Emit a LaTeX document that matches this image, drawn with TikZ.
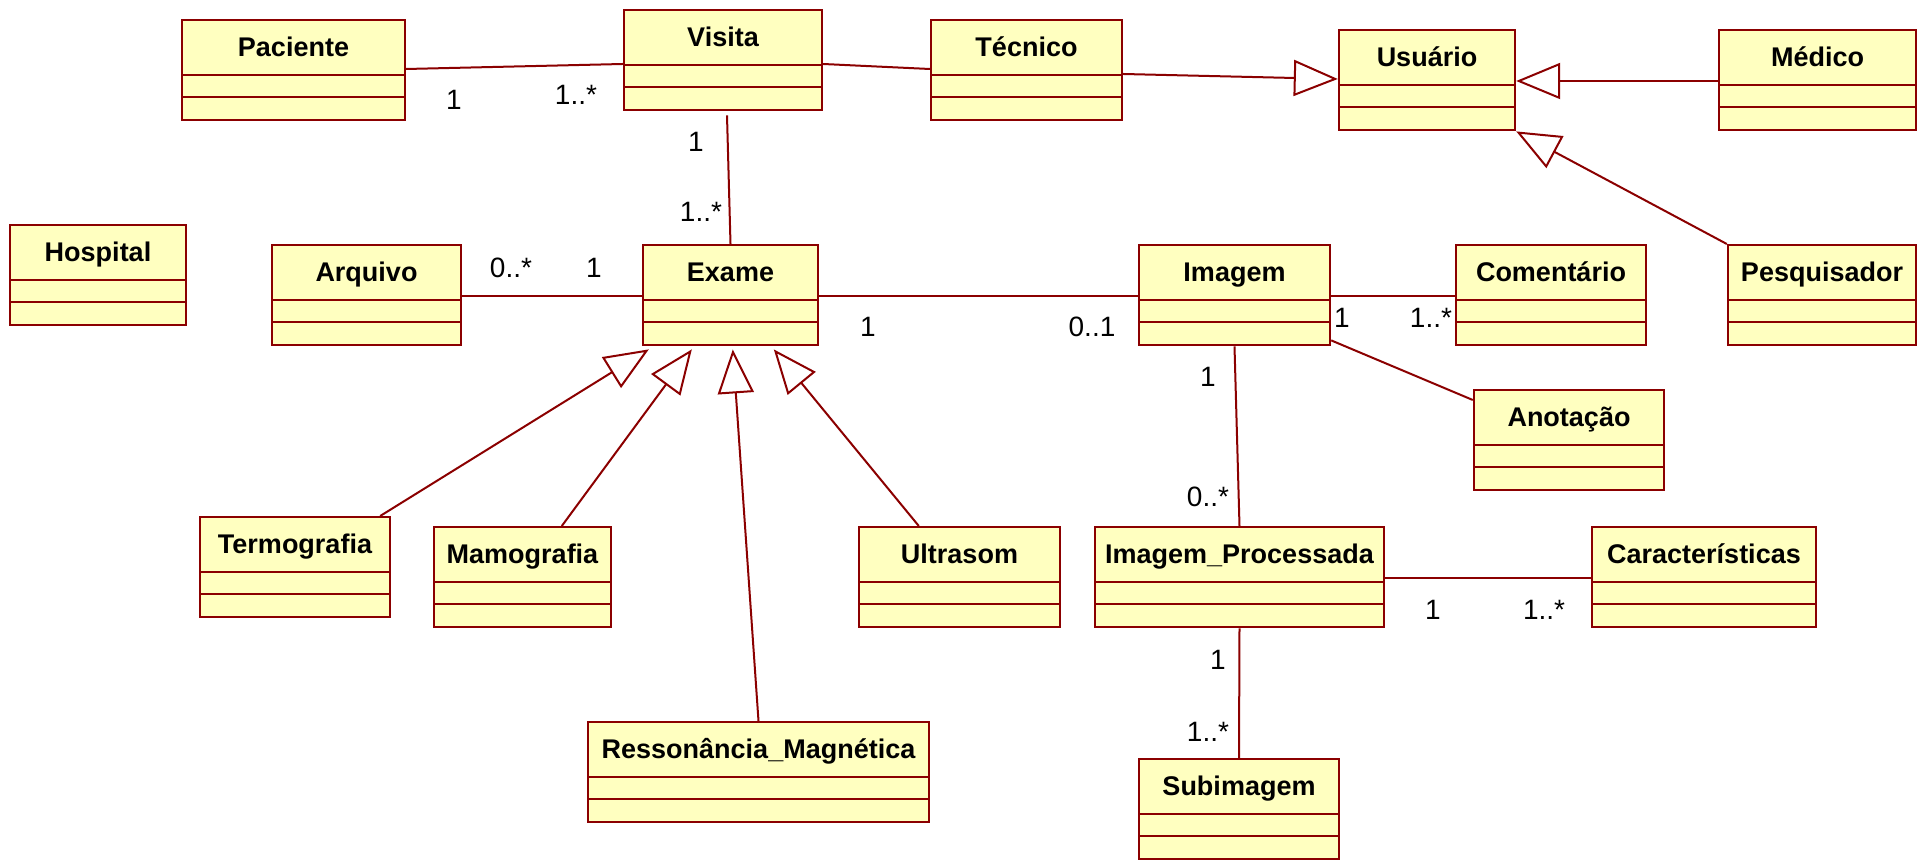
\documentclass[tikz,border=0pt]{standalone}
\usepackage{fontspec}
\setmainfont{Liberation Sans}
\usetikzlibrary{arrows.meta,calc}
\definecolor{umlfill}{HTML}{FFFFC0}
\definecolor{umlline}{HTML}{8B0000}

\begin{document}
\begin{tikzpicture}[
  x=0.5pt, y=-0.5pt,
  cls/.style={draw=umlline, fill=umlfill, line width=1.2pt, anchor=north,
    inner xsep=2pt, inner ysep=0pt, minimum height=50pt,
    text height=18pt, text depth=32pt,
    font=\fontsize{13.5}{15}\selectfont\bfseries,
    path picture={\draw[umlline, line width=1.2pt]
      ([yshift=-27.5pt]path picture bounding box.north west) -- ([yshift=-27.5pt]path picture bounding box.north east)
      ([yshift=-38.5pt]path picture bounding box.north west) -- ([yshift=-38.5pt]path picture bounding box.north east);}},
  assoc/.style={draw=umlline, line width=1pt},
  gen/.style={assoc, -{Triangle[open, length=22pt, width=18pt]}},
  mult/.style={font=\fontsize{14}{16}\selectfont, inner sep=0pt}
]
  \useasboundingbox (0,0) rectangle (1918,860);

  % Linha 1: pacientes e usuarios
  \node[cls, minimum width=111.5pt] (paciente) at (293.5,19)  {Paciente};
  \node[cls, minimum width=99pt]    (visita)   at (723,9)     {Visita};
  \node[cls, minimum width=95.5pt]  (tecnico)  at (1026.5,19) {Técnico};
  \node[cls, minimum width=88pt]    (usuario)  at (1427,29)   {Usuário};
  \node[cls, minimum width=98.5pt]  (medico)   at (1817.5,29) {Médico};
  % Linha 2: exame e imagem
  \node[cls, minimum width=88pt]    (hospital)    at (98,224)    {Hospital};
  \node[cls, minimum width=94.5pt]  (arquivo)     at (366.5,244) {Arquivo};
  \node[cls, minimum width=87.5pt]  (exame)       at (730.5,244) {Exame};
  \node[cls, minimum width=95.5pt]  (imagem)      at (1234.5,244) {Imagem};
  \node[cls, minimum width=95pt]    (comentario)  at (1551,244)  {Comentário};
  \node[cls, minimum width=94pt]    (pesquisador) at (1822,244)  {Pesquisador};
  \node[cls, minimum width=95pt]    (anotacao)    at (1569,389)  {Anotação};
  % Linha 3: tipos de exame e processamento
  \node[cls, minimum width=95pt]    (termografia)     at (295,516)    {Termografia};
  \node[cls, minimum width=88.5pt]  (mamografia)      at (522.5,526)  {Mamografia};
  \node[cls, minimum width=100.5pt] (ultrasom)        at (959.5,526)  {Ultrasom};
  \node[cls, minimum width=144.5pt] (imgproc)         at (1239.5,526) {Imagem\_Processada};
  \node[cls, minimum width=112pt]   (caracteristicas) at (1704,526)   {Características};
  \node[cls, minimum width=170.5pt] (ressonancia)     at (758.5,721)  {Ressonância\_Magnética};
  \node[cls, minimum width=100pt]   (subimagem)       at (1239,758)   {Subimagem};

  % Associacoes
  \draw[assoc] ($(paciente.north east)+(0,50)$) -- ($(visita.north west)+(0,55)$);
  \draw[assoc] ($(visita.north east)+(0,55)$) -- ($(tecnico.north west)+(0,50)$);
  \draw[assoc] ($(visita.south)+(4,4)$) -- (exame.north);
  \draw[assoc] ($(arquivo.north east)+(0,52)$) -- ($(exame.north west)+(0,52)$);
  \draw[assoc] ($(exame.north east)+(0,52)$) -- ($(imagem.north west)+(0,52)$);
  \draw[assoc] ($(imagem.north east)+(0,52)$) -- ($(comentario.north west)+(0,52)$);
  \draw[assoc] ($(imagem.south east)+(0,-6)$) -- ($(anotacao.north west)+(0,11)$);
  \draw[assoc] (imagem.south) -- (imgproc.north);
  \draw[assoc] ($(imgproc.north east)+(0,52)$) -- ($(caracteristicas.north west)+(0,52)$);
  \draw[assoc] (imgproc.south) -- (subimagem.north);

  % Generalizacoes
  \draw[gen] ($(tecnico.north east)+(0,55)$) -- ($(usuario.north west)+(0,50)$);
  \draw[gen] ($(medico.north west)+(0,52)$) -- ($(usuario.north east)+(0,52)$);
  \draw[gen] (pesquisador.north west) -- (usuario.south east);
  \draw[gen] ($(termografia.north east)+(-11,0)$) -- ($(exame.south west)+(7,3)$);
  \draw[gen] ($(mamografia.north west)+(129,0)$) -- ($(exame.south west)+(50,3)$);
  \draw[gen] (ressonancia.north) -- ($(exame.south west)+(91,3)$);
  \draw[gen] ($(ultrasom.north west)+(61,0)$) -- ($(exame.south west)+(132,3)$);

  % Multiplicidades
  \node[mult] (m1)  at (454,100)  {1};
  \node[mult] (m2)  at (576,95)   {1..*};
  \node[mult] (m3)  at (696,142)  {1};
  \node[mult] (m4)  at (701,212)  {1..*};
  \node[mult] (m5)  at (511,268)  {0..*};
  \node[mult] (m6)  at (594,268)  {1};
  \node[mult] (m7)  at (868,327)  {1};
  \node[mult] (m8)  at (1092,327) {0..1};
  \node[mult] (m9)  at (1342,318) {1};
  \node[mult] (m10) at (1431,318) {1..*};
  \node[mult] (m11) at (1208,377) {1};
  \node[mult] (m12) at (1208,497) {0..*};
  \node[mult] (m13) at (1433,610) {1};
  \node[mult] (m14) at (1544,610) {1..*};
  \node[mult] (m15) at (1218,660) {1};
  \node[mult] (m16) at (1208,732) {1..*};
\end{tikzpicture}
\end{document}
